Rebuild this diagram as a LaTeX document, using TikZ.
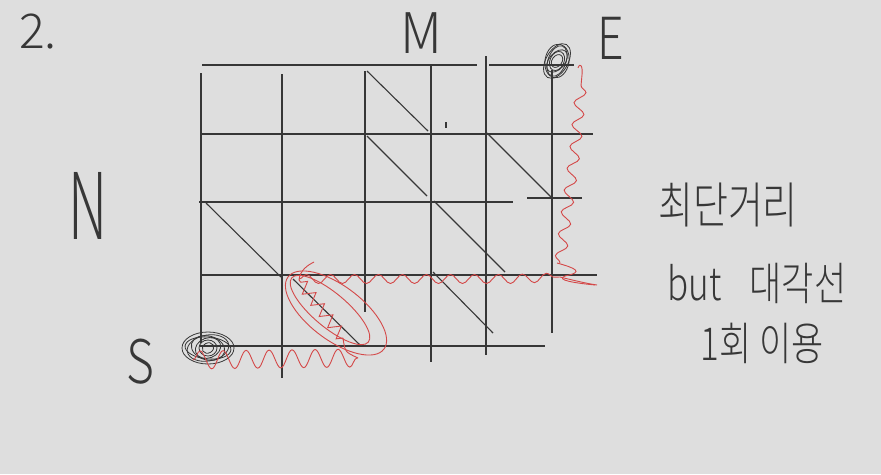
\documentclass[tikz,border=0pt]{standalone}
\usepackage{fontspec}
\setmainfont{Noto Sans CJK KR}[UprightFont=* Light]
\usetikzlibrary{decorations.pathmorphing}
\definecolor{bg}{RGB}{222,222,222}
\definecolor{ink}{RGB}{55,55,55}
\definecolor{pen}{RGB}{212,72,72}
\begin{document}
\begin{tikzpicture}[x=1pt,y=-1pt,
  grid/.style={ink, line width=1.1pt},
  blob/.style={ink, line width=0.8pt},
  redpen/.style={pen, line width=0.9pt},
  lbl/.style={ink, inner sep=0pt},
  bigwave/.style={decorate, decoration={snake, amplitude=9pt, segment length=23pt}},
  rowwave/.style={decorate, decoration={snake, amplitude=4.5pt, segment length=24pt}},
  colwave/.style={decorate, decoration={snake, amplitude=5.5pt, segment length=22pt}},
  zig/.style={decorate, decoration={zigzag, amplitude=6pt, segment length=14pt}}]
\fill[bg] (0,0) rectangle (881,474);
\useasboundingbox (0,0) rectangle (881,474);

% horizontal grid lines
\draw[grid] (202,65) -- (477,65);
\draw[grid] (489,65) -- (574,65);
\draw[grid] (200,134) -- (593,134);
\draw[grid] (199,202) -- (513,202);
\draw[grid] (527,198) -- (582,198);
\draw[grid] (202,275) -- (597,275);
\draw[grid] (200,346) -- (545,346);
% vertical grid lines
\draw[grid] (201,73) -- (201,343);
\draw[grid] (282,74) -- (282,378);
\draw[grid] (365,71) -- (365,312);
\draw[grid] (431,64) -- (431,362);
\draw[grid] (486,56) -- (486,355);
\draw[grid] (552,70) -- (552,333);
% diagonals
\draw[grid] (367,71) -- (428,131);
\draw[grid] (367,136) -- (427,196);
\draw[grid] (487,133) -- (551,197);
\draw[grid] (206,203) -- (281,277);
\draw[grid] (434,201) -- (505,272);
\draw[grid] (293,279) -- (360,345);
\draw[grid] (433,272) -- (493,333);
\draw[grid] (446,122) -- (446,128);

% start / end scribbles
\foreach \a/\b/\r in {26/16/0, 21/13/10, 17/12/-15, 13/10/20, 9/8/0, 6/5/30, 23/11/-5}
  \draw[blob, rotate around={\r:(208,348)}] (208,348) ellipse (\a pt and \b pt);
\foreach \a/\b/\r in {19/11/60, 16/9/70, 13/8/50, 10/7/65, 7/5/55, 17/12/80}
  \draw[blob, rotate around={\r:(557,61)}] (557,61) ellipse (\a pt and \b pt);

% red route
\draw[redpen, bigwave] (193,360) -- (358,358);
\draw[redpen] (358,358) .. controls (345,352) and (345,352) .. (343,338);
\draw[redpen, zig] (343,338) -- (299,280);
\draw[redpen] (299,280) .. controls (300,270) and (308,265) .. (314,262);
\draw[redpen, rowwave] (299,279) -- (500,279) -- (560,277);
\draw[redpen] (560,277) .. controls (580,282) and (590,284) .. (597,285);
\draw[redpen] (557,263) .. controls (575,268) and (585,272) .. (565,276) .. controls (555,280) and (575,283) .. (595,285);
\draw[redpen, colwave] (560,263) -- (575,150) -- (582,75);
\draw[redpen] (582,75) .. controls (583,66) and (580,62) .. (578,68);
\draw[redpen, rotate around={-37:(336,313)}] (336,313) ellipse (60pt and 27pt);
\draw[redpen, rotate around={-40:(330,310)}] (330,310) ellipse (50pt and 17pt);

% labels
\node[lbl, font=\fontsize{48}{48}\selectfont] at (38,32) {2.};
\node[lbl, font=\fontsize{56}{56}\selectfont] at (421,33) {\scalebox{0.95}[1]{M}};
\node[lbl, font=\fontsize{58}{58}\selectfont] at (611,38) {\scalebox{0.8}[1]{E}};
\node[lbl, font=\fontsize{92}{92}\selectfont] at (88,206) {\scalebox{0.6}[1]{N}};
\node[lbl, font=\fontsize{60}{60}\selectfont] at (140,362) {\scalebox{0.8}[1]{S}};
\node[lbl, font=\fontsize{38}{38}\selectfont] at (728,205) {\scalebox{1}[1.3]{최단거리}};
\node[lbl, font=\fontsize{35}{35}\selectfont] at (757,283) {\scalebox{1}[1.3]{but\hspace{28pt}대각선}};
\node[lbl, font=\fontsize{35}{35}\selectfont] at (762,343) {\scalebox{1}[1.3]{1회 이용}};
\end{tikzpicture}
\end{document}
